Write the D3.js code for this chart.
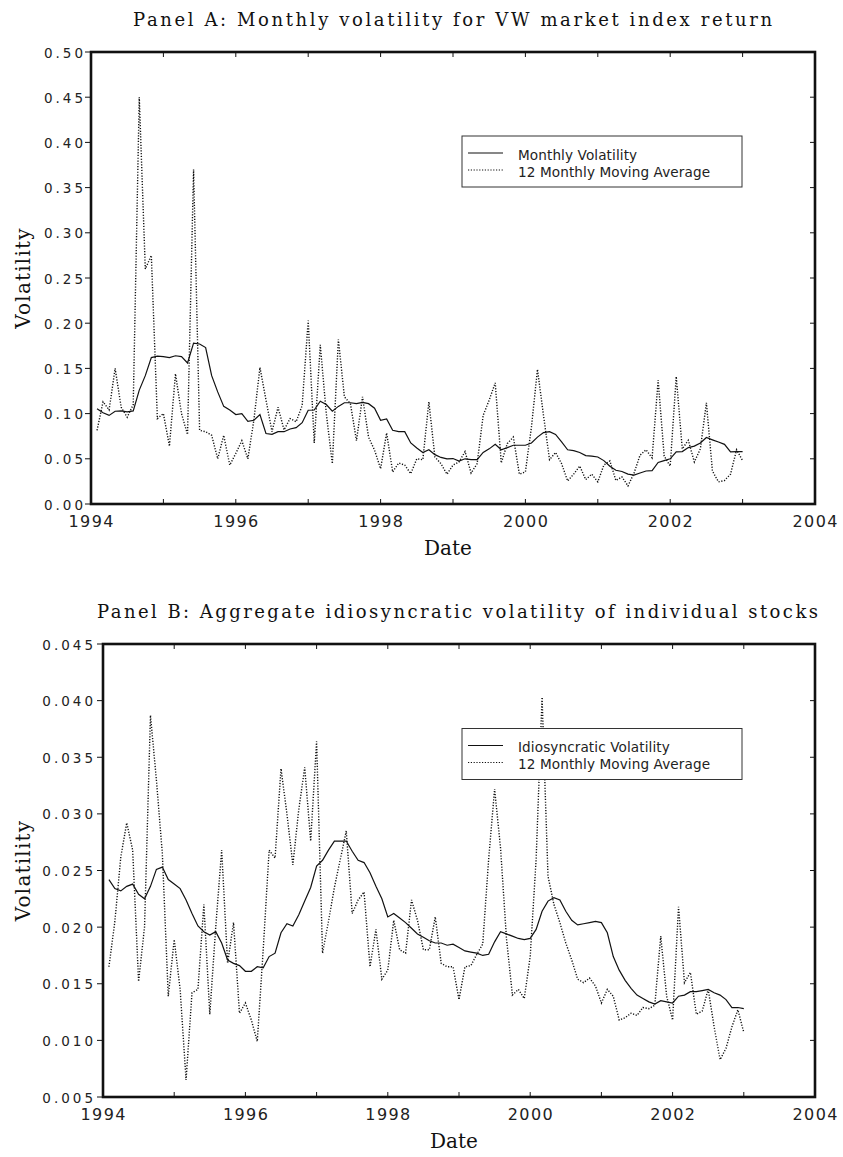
<!DOCTYPE html>
<html>
<head>
<meta charset="utf-8">
<script src="https://cdn.jsdelivr.net/npm/d3@7"></script>
<style>
  body { margin: 0; background: #fff; }
  svg { display: block; }
  .tick-y { font-family: "DejaVu Sans", sans-serif; font-size: 13.5px; letter-spacing: 3px; fill: #222; }
  .tick-x { font-family: "DejaVu Sans", sans-serif; font-size: 16px; letter-spacing: 1.4px; fill: #222; }
  .serif { font-family: "DejaVu Serif", serif; fill: #111; }
  .legend { font-family: "DejaVu Sans", sans-serif; font-size: 13.6px; letter-spacing: 0.1px; fill: #222; }
</style>
</head>
<body>
<script>

// monthly observations, Feb 1994 .. Jan 2003 (108 months)
var startYear = 1994;

// Panel A: VW market index
var marketVol = [0.1055,0.101,0.098,0.1026,0.103,0.102,0.103,0.126,0.142,0.162,
  0.1635,0.163,0.162,0.164,0.163,0.156,0.178,0.177,0.173,0.142,
  0.124,0.108,0.104,0.099,0.100,0.0915,0.0926,0.099,0.078,0.077,
  0.080,0.080,0.083,0.0845,0.090,0.1037,0.104,0.1137,0.110,0.1026,
  0.108,0.112,0.112,0.111,0.1125,0.111,0.106,0.0926,0.094,0.0815,
  0.080,0.080,0.0675,0.062,0.057,0.060,0.0546,0.0515,0.050,0.0503,
  0.0475,0.050,0.049,0.049,0.057,0.061,0.066,0.060,0.0624,0.065,
  0.065,0.065,0.0675,0.074,0.079,0.080,0.077,0.0686,0.060,0.059,
  0.057,0.0535,0.053,0.052,0.048,0.0417,0.0373,0.036,0.033,0.032,
  0.0343,0.0365,0.037,0.046,0.048,0.050,0.0576,0.058,0.0624,0.064,
  0.0675,0.0735,0.071,0.0686,0.066,0.0576,0.058,0.058];

var marketMA = [0.0815,0.113,0.104,0.150,0.107,0.096,0.110,0.450,0.260,0.275,
  0.0945,0.100,0.064,0.144,0.100,0.0768,0.370,0.0815,0.080,0.076,
  0.050,0.076,0.043,0.056,0.070,0.050,0.093,0.151,0.115,0.080,
  0.107,0.082,0.0945,0.091,0.109,0.203,0.0675,0.176,0.100,0.0446,
  0.182,0.1185,0.111,0.070,0.1185,0.074,0.0595,0.039,0.0786,0.0355,
  0.0454,0.043,0.0336,0.050,0.049,0.113,0.052,0.0446,0.033,0.043,
  0.0465,0.058,0.0343,0.0446,0.098,0.115,0.134,0.0454,0.0668,0.074,
  0.033,0.0355,0.085,0.149,0.098,0.049,0.057,0.0446,0.0255,0.033,
  0.042,0.027,0.033,0.0245,0.043,0.0476,0.026,0.030,0.020,0.034,
  0.054,0.060,0.051,0.137,0.053,0.042,0.141,0.061,0.0705,0.0465,
  0.061,0.112,0.0365,0.0245,0.026,0.033,0.060,0.048];

// Panel B: aggregate idiosyncratic volatility
var idioVol = [0.0242,0.0234,0.0232,0.0236,0.0238,0.0229,0.0225,0.0236,0.0251,0.0253,
  0.0242,0.0238,0.0234,0.0224,0.0212,0.0201,0.0196,0.0193,0.0196,0.0186,
  0.0171,0.0168,0.0166,0.0161,0.0161,0.0165,0.0164,0.0174,0.0177,0.0195,
  0.0203,0.0201,0.0211,0.0223,0.0235,0.0254,0.0259,0.0268,0.0276,0.0276,
  0.0276,0.0267,0.0259,0.0257,0.0248,0.0236,0.0225,0.0209,0.0212,0.0208,
  0.0204,0.0199,0.0194,0.0191,0.0188,0.0186,0.0186,0.0184,0.0185,0.0182,
  0.0179,0.0178,0.0177,0.0175,0.0176,0.0187,0.0196,0.0194,0.0192,0.0190,
  0.0189,0.0190,0.0198,0.0214,0.0223,0.0226,0.0224,0.0214,0.0206,0.0202,
  0.0203,0.0204,0.0205,0.0204,0.0195,0.0174,0.0162,0.0153,0.0146,0.0140,
  0.0137,0.0134,0.0132,0.0135,0.0134,0.0133,0.0139,0.0140,0.0143,0.0143,
  0.0144,0.0145,0.0142,0.0140,0.0136,0.0129,0.0129,0.0128];

var idioMA = [0.0165,0.0205,0.0262,0.0292,0.0268,0.0152,0.0200,0.0387,0.0330,0.0265,
  0.0139,0.0189,0.0145,0.0065,0.0142,0.0145,0.0220,0.0123,0.0200,0.0268,
  0.0168,0.0204,0.0124,0.0133,0.0118,0.0099,0.0180,0.0268,0.0261,0.0340,
  0.0300,0.0255,0.0304,0.0341,0.0276,0.0364,0.0177,0.0205,0.0235,0.0260,
  0.0285,0.0212,0.0224,0.0231,0.0165,0.0198,0.0154,0.0162,0.0206,0.0180,
  0.0177,0.0224,0.0206,0.0180,0.0180,0.0209,0.0168,0.0165,0.0165,0.0136,
  0.0165,0.0166,0.0176,0.0185,0.0260,0.0322,0.0270,0.0190,0.0140,0.0145,
  0.0137,0.0174,0.0260,0.0403,0.0245,0.0220,0.0204,0.0186,0.0171,0.0154,
  0.0151,0.0155,0.0148,0.0133,0.0145,0.0139,0.0118,0.0120,0.0124,0.0122,
  0.0129,0.0128,0.0131,0.0192,0.0139,0.0118,0.0218,0.0151,0.0160,0.0123,
  0.0126,0.0145,0.0112,0.0083,0.0093,0.0112,0.0127,0.0107];

var xTicks = [1994, 1996, 1998, 2000, 2002, 2004];
var xMinor = [1994,1995,1996,1997,1998,1999,2000,2001,2002,2003,2004];
var yTicksA = [0,0.05,0.10,0.15,0.20,0.25,0.30,0.35,0.40,0.45,0.50];
var yTicksB = [0.005,0.010,0.015,0.020,0.025,0.030,0.035,0.040,0.045];

var svg = d3.select("body").append("svg")
  .attr("width", 843)
  .attr("height", 1157);

svg.append("rect").attr("width", 843).attr("height", 1157).attr("fill", "#fff");

function panel(opt) {
  var x = d3.scaleLinear().domain([1994, 2004]).range([opt.left, opt.right]);
  var y = d3.scaleLinear().domain(opt.yDomain).range([opt.bottom, opt.top]);

  var g = svg.append("g");

  // title
  g.append("text")
    .attr("class", "serif")
    .attr("x", (opt.titleX0 + opt.titleX1) / 2)
    .attr("y", opt.titleY)
    .attr("text-anchor", "middle")
    .attr("font-size", 18)
    .attr("textLength", opt.titleX1 - opt.titleX0)
    .attr("lengthAdjust", "spacing")
    .text(opt.title);

  var line = d3.line()
    .x(function (d, i) { return x(startYear + (i + 1) / 12); })
    .y(function (d) { return y(d); });

  g.append("path")
    .datum(opt.ma)
    .attr("d", line)
    .attr("fill", "none")
    .attr("stroke", "#111")
    .attr("stroke-width", 1.4)
    .attr("stroke-dasharray", "1.2,1.6");

  g.append("path")
    .datum(opt.vol)
    .attr("d", line)
    .attr("fill", "none")
    .attr("stroke", "#111")
    .attr("stroke-width", 1.2);

  // inward ticks on top / bottom / right, outward on left
  var tk = 5;
  xMinor.forEach(function (t) {
    g.append("line").attr("x1", x(t)).attr("x2", x(t))
      .attr("y1", opt.bottom).attr("y2", opt.bottom - tk).attr("stroke", "#111");
    g.append("line").attr("x1", x(t)).attr("x2", x(t))
      .attr("y1", opt.top).attr("y2", opt.top + tk).attr("stroke", "#111");
  });
  opt.yTicks.forEach(function (v) {
    g.append("line").attr("x1", opt.left).attr("x2", opt.left - 6)
      .attr("y1", y(v)).attr("y2", y(v)).attr("stroke", "#111");
    g.append("line").attr("x1", opt.right).attr("x2", opt.right - tk)
      .attr("y1", y(v)).attr("y2", y(v)).attr("stroke", "#111");
    g.append("text")
      .attr("class", "tick-y")
      .attr("x", opt.left - opt.labelGap)
      .attr("y", y(v) + 5.5)
      .attr("text-anchor", "end")
      .text(opt.fmt(v));
  });
  xTicks.forEach(function (t) {
    g.append("text")
      .attr("class", "tick-x")
      .attr("x", x(t) + 0.7)
      .attr("y", opt.bottom + 23)
      .attr("text-anchor", "middle")
      .text(t);
  });

  // frame
  g.append("rect")
    .attr("x", opt.left).attr("y", opt.top)
    .attr("width", opt.right - opt.left).attr("height", opt.bottom - opt.top)
    .attr("fill", "none").attr("stroke", "#111").attr("stroke-width", 2.6);

  // axis titles
  g.append("text")
    .attr("class", "serif")
    .attr("x", (opt.left + opt.right) / 2 - 5)
    .attr("y", opt.bottom + 51)
    .attr("text-anchor", "middle")
    .attr("font-size", 20)
    .text("Date");

  g.append("text")
    .attr("class", "serif")
    .attr("transform", "translate(30," + ((opt.top + opt.bottom) / 2) + ") rotate(-90)")
    .attr("text-anchor", "middle")
    .attr("font-size", 20)
    .attr("letter-spacing", 1.2)
    .text("Volatility");

  // legend
  var lx = 462, ly = opt.legendTop;
  g.append("rect")
    .attr("x", lx).attr("y", ly).attr("width", 280).attr("height", 51)
    .attr("fill", "#fff").attr("stroke", "#333").attr("stroke-width", 1);
  var items = [{ label: opt.volLabel, dash: null }, { label: "12 Monthly Moving Average", dash: "1.2,1.6" }];
  items.forEach(function (it, k) {
    var by = ly + 23.5 + k * 17;
    g.append("line")
      .attr("x1", lx + 6).attr("x2", lx + 41)
      .attr("y1", by - 6.5).attr("y2", by - 6.5)
      .attr("stroke", "#111").attr("stroke-width", 1.1)
      .attr("stroke-dasharray", it.dash);
    g.append("text")
      .attr("class", "legend")
      .attr("x", lx + 56).attr("y", by)
      .text(it.label);
  });
}

panel({
  left: 91, right: 815, top: 52, bottom: 504, labelGap: 5,
  yDomain: [0, 0.5], yTicks: yTicksA, fmt: d3.format(".2f"),
  vol: marketVol, ma: marketMA, volLabel: "Monthly Volatility",
  title: "Panel A: Monthly volatility for VW market index return",
  titleX0: 133, titleX1: 772, titleY: 26, legendTop: 136
});

panel({
  left: 103, right: 815, top: 644, bottom: 1097, labelGap: 7,
  yDomain: [0.005, 0.045], yTicks: yTicksB, fmt: d3.format(".3f"),
  vol: idioVol, ma: idioMA, volLabel: "Idiosyncratic Volatility",
  title: "Panel B: Aggregate idiosyncratic volatility of individual stocks",
  titleX0: 97, titleX1: 818, titleY: 618, legendTop: 728.5
});

</script>
</body>
</html>
